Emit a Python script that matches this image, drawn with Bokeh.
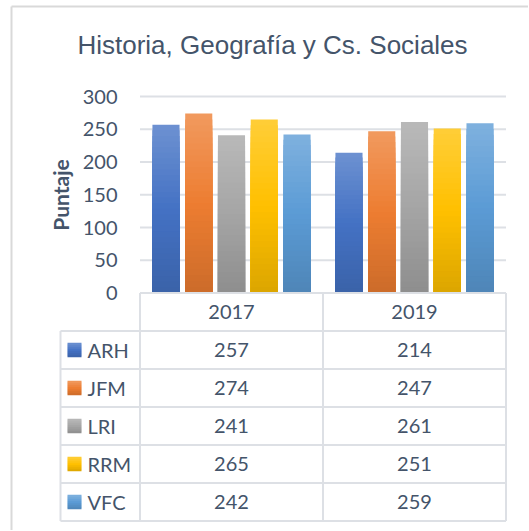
from bokeh.plotting import figure
from bokeh.models import Range1d
from bokeh.core.properties import value
from bokeh.embed import file_html
from bokeh.resources import INLINE
import math

# ---------------- data ----------------
title_text = "Historia, Geografía y Cs. Sociales"
y_label = "Puntaje"
years = ["2017", "2019"]
series = ["ARH", "JFM", "LRI", "RRM", "VFC"]
arh = [257, 214]
jfm = [274, 247]
lri = [241, 261]
rrm = [265, 251]
vfc = [242, 259]
values = [arh, jfm, lri, rrm, vfc]
y_ticks = [0, 50, 100, 150, 200, 250, 300]
colors = ["#4472C4", "#ED7D31", "#A5A5A5", "#FFC000", "#5B9BD5"]

# ---------------- layout ----------------
W, H = 528, 530
PAGE0 = 0
X0_PAGE, PX_X = 139.5, 183.0     # category axis: x=0 at page px, px per category
Y0_PAGE, PX_Y = 292.5, (292.5 - 96.0) / 300.0
T0_PAGE, ROW = 292.5, 38.0       # table rows

def dx(px):
    return (px - X0_PAGE) / PX_X

def dy(py):
    return (Y0_PAGE - py) / PX_Y

def dt(py):
    return (T0_PAGE - py) / ROW

TEXT = "#44546A"
LINE = "#DDE0E5"
FONT = value("Lato")

p = figure(width=W, height=H,
           x_range=Range1d(dx(PAGE0), dx(PAGE0 + W)),
           y_range=Range1d(dy(PAGE0 + H), dy(PAGE0)),
           x_axis_type=None, y_axis_type=None,
           toolbar_location=None, output_backend="svg",
           min_border=0, outline_line_color=None,
           background_fill_color="white", border_fill_color="white")
p.extra_y_ranges = {"tbl": Range1d(dt(PAGE0 + H), dt(PAGE0))}

# outer chart frame (left and top edges)
p.segment(x0=[dx(11), dx(11)], y0=[dy(6), dy(6)], x1=[dx(11), dx(540)], y1=[dy(540), dy(6)],
          line_color="#D9D9D9", line_width=2)

# gridlines
gt = [t for t in y_ticks if t > 0]
p.segment(x0=[0] * len(gt), y0=gt, x1=[len(years)] * len(gt), y1=gt,
          line_color=LINE, line_width=2)

# ---------------- bars with vertical gradient ----------------
def hex2rgb(h):
    h = h.lstrip("#")
    return [int(h[i:i + 2], 16) for i in (0, 2, 4)]

def rgb2hex(c):
    return "#%02x%02x%02x" % tuple(max(0, min(255, int(round(v)))) for v in c)

def grad(base, f):
    b = hex2rgb(base)
    light = [v + 0.22 * (255 - v) for v in b]
    dark = [v * 0.86 for v in b]
    if f >= 0.5:
        t = (f - 0.5) / 0.5
        return rgb2hex([b[i] + t * (light[i] - b[i]) for i in range(3)])
    t = (0.5 - f) / 0.5
    return rgb2hex([b[i] + t * (dark[i] - b[i]) for i in range(3)])

N = 30
PITCH, BW = 0.179, 0.148
xs, tops, fills = [], [], []
for i in range(N - 1, -1, -1):
    for k, (vals, col) in enumerate(zip(values, colors)):
        for j, v in enumerate(vals):
            xs.append(j + 0.5 + (k - 2) * PITCH)
            tops.append(v * (i + 1) / N)
            fills.append(grad(col, (i + 0.5) / N))
p.vbar(x=xs, top=tops, bottom=0, width=BW, fill_color=fills, line_color=None)

# y tick labels
p.text(x=[dx(117)] * len(y_ticks), y=y_ticks, text=[str(t) for t in y_ticks],
       text_align="right", text_baseline="middle",
       text_font=FONT, text_font_size="20px", text_color=TEXT)

# axis title
p.text(x=[dx(60)], y=[dy(194.5)], text=[y_label], angle=math.pi / 2,
       text_align="center", text_baseline="middle",
       text_font=FONT, text_font_size="21px", text_font_style="bold", text_color=TEXT)

# chart title
p.text(x=[dx(272)], y=[dy(44)], text=[title_text], text_align="center",
       text_baseline="middle", text_font=value("Liberation Sans"),
       text_font_size="26px", text_color=TEXT)

# ---------------- data table ----------------
nrow = len(series)
LEG_X = dx(60)
hx0 = [0] + [LEG_X] * (nrow + 1)
hy = [0] + [-(r + 1) for r in range(nrow + 1)]
p.segment(x0=hx0, y0=hy, x1=[len(years)] * len(hy), y1=hy,
          line_color=LINE, line_width=2, y_range_name="tbl")
vx = [LEG_X] + list(range(len(years) + 1))
vy0 = [-1] + [0] * (len(years) + 1)
p.segment(x0=vx, y0=vy0, x1=vx, y1=[-(nrow + 1)] * len(vx),
          line_color=LINE, line_width=2, y_range_name="tbl")

# header
p.text(x=[j + 0.5 for j in range(len(years))], y=[-0.5] * len(years), text=years,
       text_align="center", text_baseline="middle",
       text_font=FONT, text_font_size="20px", text_color=TEXT, y_range_name="tbl")

# body cells
cx, cy, ct = [], [], []
for r, vals in enumerate(values):
    for j, v in enumerate(vals):
        cx.append(j + 0.5)
        cy.append(-(r + 1.5))
        ct.append(str(v))
p.text(x=cx, y=cy, text=ct, text_align="center", text_baseline="middle",
       text_font=FONT, text_font_size="20px", text_color=TEXT, y_range_name="tbl")

# legend keys (small gradient squares) and names
ry = [-(r + 1.5) for r in range(nrow)]
KEY = 14.0
NK = 7
kx, ky, kc = [], [], []
for s in range(NK):
    f = (s + 0.5) / NK                       # 0 = bottom, 1 = top
    off = (f - 0.5) * KEY / ROW
    for r in range(nrow):
        kx.append(dx(74))
        ky.append(ry[r] + off)
        kc.append(grad(colors[r], f))
p.rect(x=kx, y=ky, width=KEY, height=KEY / NK + 0.6, width_units="screen",
       height_units="screen", fill_color=kc, line_color=None, y_range_name="tbl")
p.text(x=[dx(87)] * nrow, y=ry, text=series, text_align="left", text_baseline="middle",
       text_font=FONT, text_font_size="20px", text_color=TEXT, y_range_name="tbl")

open("out.html", "w").write(file_html(p, INLINE))
